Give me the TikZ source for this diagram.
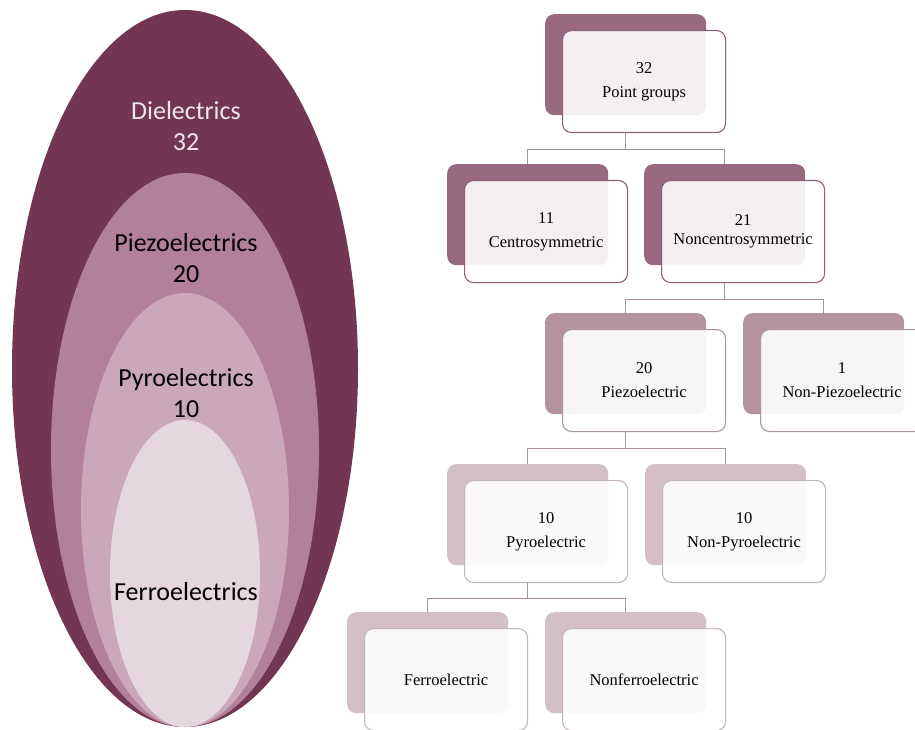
\documentclass[tikz,border=0pt]{standalone}
\usepackage{fontspec}
\setmainfont{Liberation Serif}
\newfontfamily\calibfont{Carlito}
\definecolor{ellA}{HTML}{733652}
\definecolor{ellB}{HTML}{B3809A}
\definecolor{ellC}{HTML}{CBA8B9}
\definecolor{ellD}{HTML}{E6D7DF}
\definecolor{lightlbl}{HTML}{F2E6EC}
\definecolor{backA}{HTML}{98697F}
\definecolor{backB}{HTML}{B2939F}
\definecolor{backC}{HTML}{D2BFC7}
\definecolor{bordA}{HTML}{8C6079}
\definecolor{bordB}{HTML}{A8959E}
\definecolor{bordC}{HTML}{C2B6BC}
\definecolor{linkcol}{HTML}{A8939C}
\tikzset{
  backbox/.style={rectangle, rounded corners=9pt, minimum width=161pt, minimum height=101pt, anchor=north west, inner sep=0pt},
  frontbox/.style={rectangle, rounded corners=9pt, minimum width=163pt, minimum height=102pt, anchor=north west, fill=white, fill opacity=0.9, text opacity=1, line width=1.1pt, align=center, font=\fontsize{16.5}{24}\selectfont, inner sep=0pt},
  link/.style={draw=linkcol, line width=1.1pt},
  elltext/.style={align=center, font=\calibfont\fontsize{26}{31}\selectfont}
}
\newcommand{\pgbox}[6]{%
  \node[backbox, fill=#4] (#1b) at (#2,#3) {};
  \node[frontbox, draw=#5] (#1) at (#2+17,#3+16) {#6};
}
\begin{document}
\begin{tikzpicture}[x=1pt,y=-1pt]
\useasboundingbox (0,0) rectangle (915,730);
\clip (0,0) rectangle (915,730);
% nested ellipses
\fill[ellA] (185,368.5) ellipse [x radius=173, y radius=358.5];
\fill[ellB] (185,450) ellipse [x radius=134, y radius=277];
\fill[ellC] (185,510) ellipse [x radius=104, y radius=217];
\fill[ellD] (185,573.5) ellipse [x radius=75, y radius=153.5];
\node[elltext, text=lightlbl] (diel) at (186,126) {Dielectrics\\32};
\node[elltext, text=black] (piezo) at (186,258) {Piezoelectrics\\20};
\node[elltext, text=black] (pyro) at (186,393) {Pyroelectrics\\10};
\node[elltext, text=black] (ferro) at (186,592) {Ferroelectrics};
% tree boxes
\pgbox{pg}{545}{14}{backA}{bordA}{32\\Point groups}
\pgbox{cs}{447}{164}{backA}{bordA}{11\\Centrosymmetric}
\pgbox{ncs}{644}{164}{backA}{bordA}{21\\[-5pt]Noncentrosymmetric}
\pgbox{pz}{545}{313}{backB}{bordB}{20\\Piezoelectric}
\pgbox{npz}{743}{313}{backB}{bordB}{1\\Non-Piezoelectric}
\pgbox{py}{447}{464}{backC}{bordC}{10\\Pyroelectric}
\pgbox{npy}{645}{464}{backC}{bordC}{10\\Non-Pyroelectric}
\pgbox{fe}{347}{612}{backC}{bordC}{Ferroelectric}
\pgbox{nfe}{545}{612}{backC}{bordC}{Nonferroelectric}
% connectors
\draw[link] (pg.south -| pgb.south) -- ++(0,16) -| (csb.north);
\draw[link] (pg.south -| pgb.south) -- ++(0,16) -| (ncsb.north);
\draw[link] (ncs.south -| ncsb.south) -- ++(0,16) -| (pzb.north);
\draw[link] (ncs.south -| ncsb.south) -- ++(0,16) -| (npzb.north);
\draw[link] (pz.south -| pzb.south) -- ++(0,16) -| (pyb.north);
\draw[link] (pz.south -| pzb.south) -- ++(0,16) -| (npyb.north);
\draw[link] (py.south -| pyb.south) -- ++(0,15) -| (feb.north);
\draw[link] (py.south -| pyb.south) -- ++(0,15) -| (nfeb.north);
\end{tikzpicture}
\end{document}
